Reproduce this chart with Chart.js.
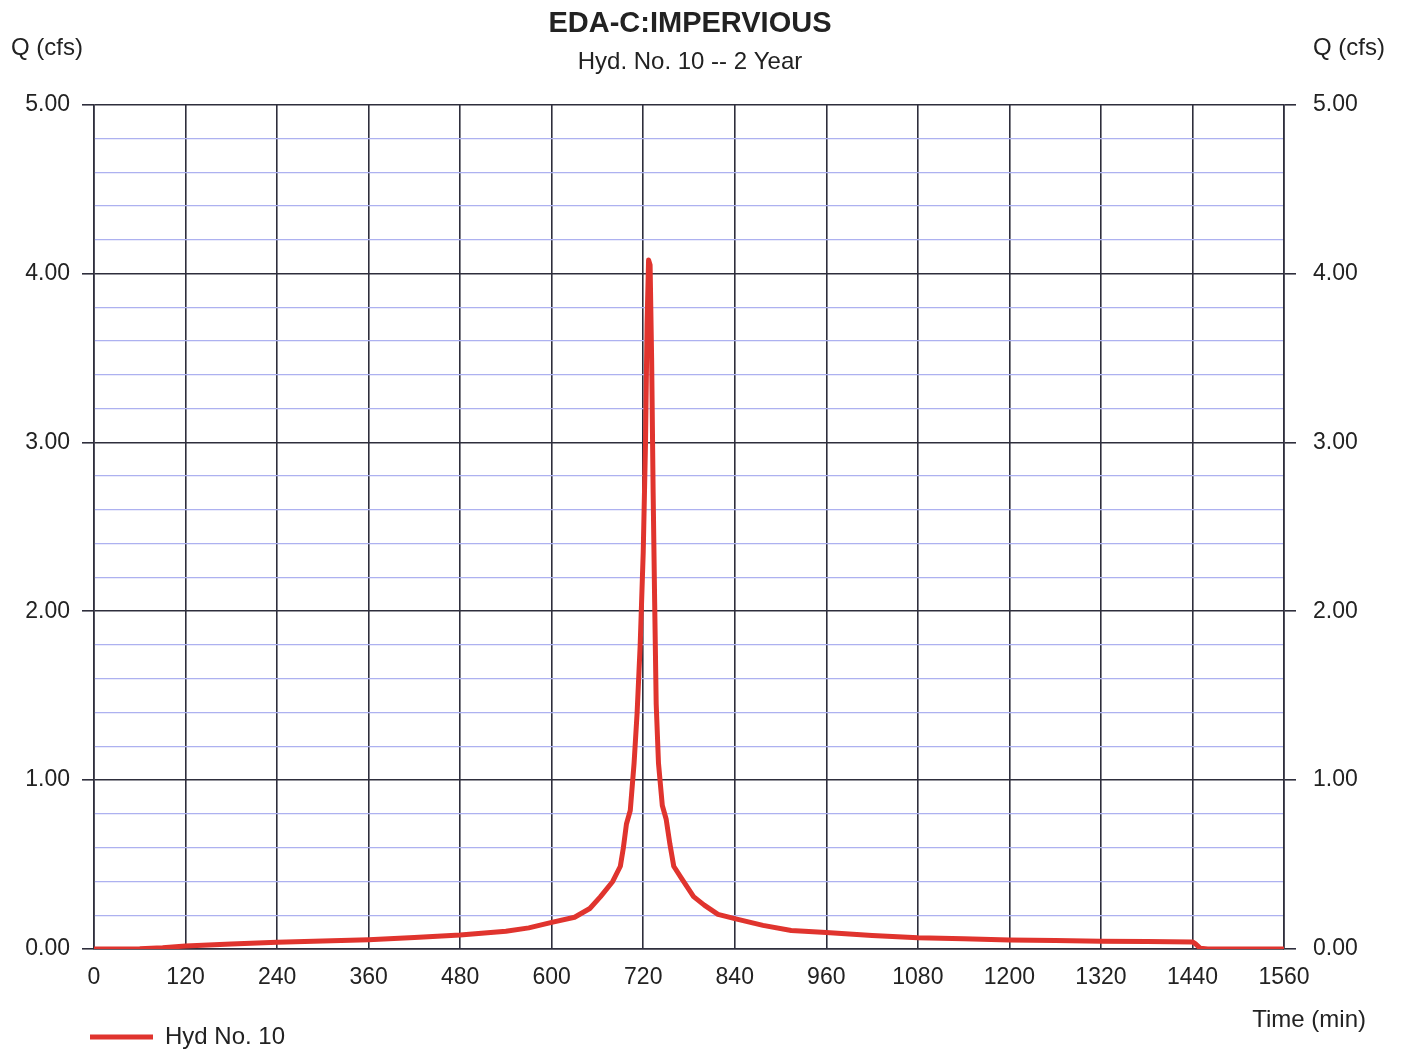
<!DOCTYPE html>
<html>
<head>
<meta charset="utf-8">
<title>EDA-C:IMPERVIOUS</title>
<script src="https://cdn.jsdelivr.net/npm/chart.js@4.4.1/dist/chart.umd.min.js"></script>
<style>
    html, body { margin: 0; padding: 0; background: #ffffff; }
    #wrap { width: 1407px; height: 1053px; }
</style>
</head>
<body>
<div id="wrap"><canvas id="hydChart" width="1407" height="1053"></canvas></div>
<script>
var times = [0, 60, 90, 120, 180, 240, 300, 360, 420, 480, 540, 570, 600, 630, 650, 664,
    680, 690, 694, 698, 703, 708, 712, 716, 720, 723, 725, 727, 729, 731, 733, 735, 737,
    740, 745, 750, 755, 760, 770, 786, 800, 818, 840, 877, 914, 960, 1020, 1080, 1140,
    1200, 1260, 1320, 1380, 1440, 1444, 1450, 1460, 1560];
var flows = [0.00, 0.002, 0.008, 0.018, 0.030, 0.040, 0.047, 0.055, 0.068, 0.083, 0.105, 0.125, 0.158, 0.188, 0.24, 0.31,
    0.40, 0.49, 0.60, 0.74, 0.82, 1.10, 1.40, 1.80, 2.35, 3.00, 3.70, 4.08, 4.05, 3.50, 2.70, 2.05, 1.45,
    1.10, 0.85, 0.77, 0.62, 0.49, 0.42, 0.31, 0.26, 0.205, 0.18, 0.14, 0.11, 0.098, 0.080, 0.066, 0.060,
    0.054, 0.050, 0.046, 0.044, 0.042, 0.030, 0.005, 0.0, 0.0];

var xMin = 0, xMax = 1560, xStep = 120;
var yMin = 0, yMax = 5, yStep = 0.2;

var seriesName = "Hyd No. 10";
var titleText = "EDA-C:IMPERVIOUS";
var subtitleText = "Hyd. No. 10 -- 2 Year";
var yName = "Q (cfs)";
var xName = "Time (min)";

var fontFamily = "'Liberation Sans', Arial, sans-serif";
var textColor = "#222222";
var majorColor = "#2e2e3c";
var minorColor = "#adb1f0";
var lineColor = "#e0342e";

//整数值为主网格线
function isMajor(v) {
    return Math.abs(v - Math.round(v)) < 1e-6;
}

var points = times.map(function (t, i) {
    return { x: t, y: flows[i] };
});

// 轴名称 Q (cfs) / Time (min)
var axisNames = {
    id: "axisNames",
    afterDraw: function (chart) {
        var ctx = chart.ctx;
        var area = chart.chartArea;
        ctx.save();
        ctx.fillStyle = textColor;
        ctx.font = "24px " + fontFamily;
        ctx.textBaseline = "middle";
        ctx.textAlign = "right";
        ctx.fillText(yName, area.left - 11, area.top - 56);
        ctx.textAlign = "left";
        ctx.fillText(yName, area.right + 29, area.top - 56);
        ctx.textAlign = "right";
        ctx.fillText(xName, area.right + 82, area.bottom + 71);
        ctx.restore();
    }
};

// 图例移到图表区左下方
var legendShift = {
    id: "legendShift",
    afterLayout: function (chart) {
        var lg = chart.legend;
        var dx = chart.chartArea.left - 8 - lg.left;
        lg.left += dx;
        lg.right += dx;
        lg.top += 6;
        lg.bottom += 6;
    }
};

var ctx = document.getElementById("hydChart").getContext("2d");

var chart = new Chart(ctx, {
    type: "line",
    data: {
        datasets: [{
            label: seriesName,
            data: points,
            borderColor: lineColor,
            backgroundColor: lineColor,
            borderWidth: 5,
            borderCapStyle: "round",
            borderJoinStyle: "round",
            pointRadius: 0,
            tension: 0,
            fill: false,
            yAxisID: "y"
        }]
    },
    options: {
        responsive: false,
        animation: false,
        layout: {
            padding: { left: 20, right: 47, top: 0, bottom: 0 }
        },
        scales: {
            x: {
                type: "linear",
                min: xMin,
                max: xMax,
                grid: {
                    color: majorColor,
                    lineWidth: 1.6,
                    drawTicks: false
                },
                border: { display: true, color: majorColor, width: 1.6 },
                ticks: {
                    stepSize: xStep,
                    autoSkip: false,
                    maxRotation: 0,
                    padding: 15,
                    color: textColor,
                    font: { family: fontFamily, size: 23 },
                    callback: function (v) { return String(v); }
                },
                afterFit: function (scale) { scale.height = 66; }
            },
            y: {
                type: "linear",
                position: "left",
                min: yMin,
                max: yMax,
                grid: {
                    color: function (c) { return isMajor(c.tick.value) ? majorColor : minorColor; },
                    tickColor: function (c) { return isMajor(c.tick.value) ? majorColor : "rgba(0,0,0,0)"; },
                    lineWidth: function (c) { return isMajor(c.tick.value) ? 1.6 : 1.3; },
                    tickLength: 12
                },
                border: { display: true, color: majorColor, width: 1.6 },
                ticks: {
                    stepSize: yStep,
                    autoSkip: false,
                    padding: 12,
                    color: textColor,
                    font: { family: fontFamily, size: 23 },
                    callback: function (v) { return isMajor(v) ? Number(v).toFixed(2) : ""; }
                },
                afterFit: function (scale) { scale.width = 74; }
            },
            y2: {
                type: "linear",
                position: "right",
                min: yMin,
                max: yMax,
                grid: {
                    drawOnChartArea: false,
                    tickColor: function (c) { return isMajor(c.tick.value) ? majorColor : "rgba(0,0,0,0)"; },
                    lineWidth: 1.6,
                    tickLength: 12
                },
                border: { display: true, color: majorColor, width: 1.6 },
                ticks: {
                    stepSize: yStep,
                    autoSkip: false,
                    padding: 17,
                    color: textColor,
                    font: { family: fontFamily, size: 23 },
                    callback: function (v) { return isMajor(v) ? Number(v).toFixed(2) : ""; }
                },
                afterFit: function (scale) { scale.width = 76; }
            }
        },
        plugins: {
            title: {
                display: true,
                text: titleText,
                color: textColor,
                font: { family: fontFamily, size: 29, weight: "bold" },
                padding: { top: 7, bottom: 3 }
            },
            subtitle: {
                display: true,
                text: subtitleText,
                color: textColor,
                font: { family: fontFamily, size: 24 },
                padding: { top: 3, bottom: 28 }
            },
            legend: {
                display: true,
                position: "bottom",
                align: "start",
                labels: {
                    usePointStyle: true,
                    pointStyle: "line",
                    pointStyleWidth: 63,
                    padding: 4,
                    color: textColor,
                    font: { family: fontFamily, size: 24 }
                }
            },
            tooltip: { enabled: false }
        }
    },
    plugins: [axisNames, legendShift]
});
</script>
</body>
</html>
